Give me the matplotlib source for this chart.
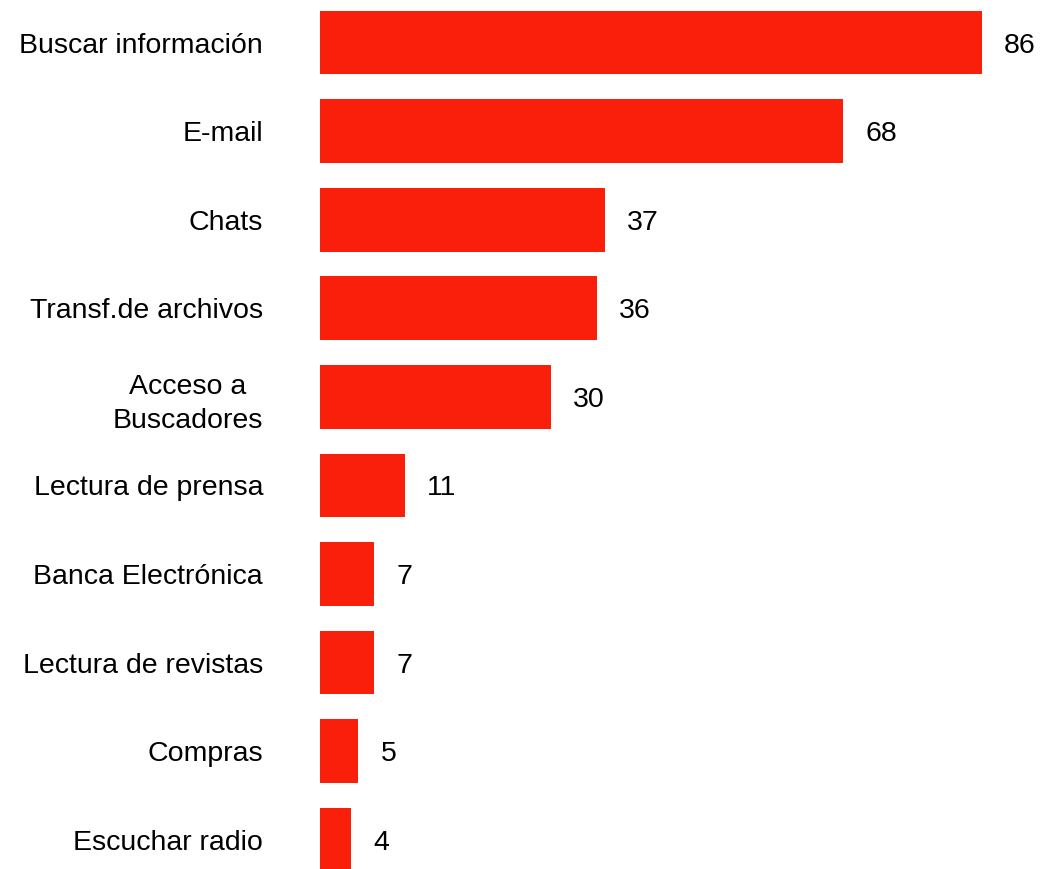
import matplotlib.pyplot as plt

actividades = ["Buscar información", "E-mail", "Chats", "Transf.de archivos",
               "Acceso a\nBuscadores", "Lectura de prensa", "Banca Electrónica",
               "Lectura de revistas", "Compras", "Escuchar radio"]
valores = [86, 68, 37, 36, 30, 11, 7, 7, 5, 4]

plt.rcParams["font.family"] = ["Liberation Sans", "DejaVu Sans"]

fig = plt.figure(figsize=(10.41, 8.69), dpi=100)
ax = fig.add_axes([320 / 1041, 0, 1 - 320 / 1041, 1])

pos = list(range(len(valores)))
ax.barh(pos, valores, height=0.72, color="#F91F0A")

for y, v in zip(pos, valores):
    ax.annotate(str(v), (v, y), xytext=(16, 0), textcoords="offset points",
                va="center_baseline", ha="left", fontsize=20.5)

ax.set_xlim(0, 93.7)
ax.set_ylim(9.33, -0.48)

ax.set_yticks(pos)
ax.set_yticklabels(actividades, fontsize=20.5)
for lbl in ax.get_yticklabels():
    lbl.set_multialignment("center")
    lbl.set_verticalalignment("center_baseline")
    lbl.set_linespacing(1.4)
ax.tick_params(axis="y", length=0, pad=41)
ax.set_xticks([])
for s in ax.spines.values():
    s.set_visible(False)

fig.savefig("out.png", dpi=100)
